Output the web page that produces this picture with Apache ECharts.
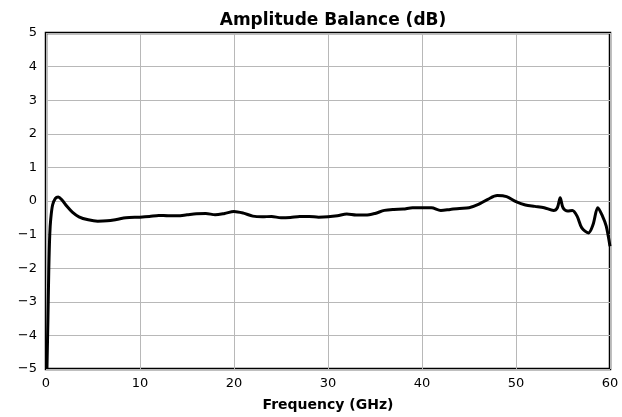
<!DOCTYPE html>
<html>
<head>
<meta charset="utf-8">
<script src="https://cdn.jsdelivr.net/npm/echarts@6/dist/echarts.min.js"></script>
<style>
html,body{margin:0;padding:0;background:#fff;}
#chart{width:622px;height:417px;}
</style>
</head>
<body>
<div id="chart"></div>
<script>
let freq = [0.1,0.2,0.3,0.4,0.5,0.7,1.0,1.3,1.7,2.2,2.8,3.5,4.5,5.5,6.5,7.5,8.5,10,11,12,13,14,15,16,17,18,19,20,21,22,23,24,25,26,27,28,29,30,31,32,33,34,35,36,37,38,39,40,41,42,43,44,45,46,47,48,49,50,51,52,53,54,54.4,54.7,55,55.5,56,56.5,57,57.7,58.2,58.7,59.2,59.6,60];
let balance = [-5,-3.6,-2.0,-1.0,-0.55,-0.12,0.08,0.12,0.03,-0.15,-0.33,-0.47,-0.56,-0.6,-0.59,-0.55,-0.5,-0.48,-0.46,-0.43,-0.44,-0.44,-0.41,-0.38,-0.37,-0.41,-0.37,-0.31,-0.36,-0.45,-0.47,-0.46,-0.5,-0.49,-0.46,-0.46,-0.48,-0.47,-0.44,-0.39,-0.42,-0.42,-0.37,-0.28,-0.25,-0.24,-0.2,-0.2,-0.2,-0.28,-0.25,-0.22,-0.2,-0.1,0.05,0.16,0.13,-0.02,-0.12,-0.16,-0.2,-0.28,-0.2,0.1,-0.2,-0.3,-0.28,-0.45,-0.8,-0.95,-0.7,-0.2,-0.45,-0.75,-1.35];
let xTicks = [0,10,20,30,40,50,60];
let yTicks = [-5,-4,-3,-2,-1,0,1,2,3,4,5];

let pts = freq.map((f,i)=>[f,balance[i]]);
let myChart = echarts.init(document.getElementById("chart"));
let font = "DejaVu Sans";
let opt = {
	animation:false,
	title:{
		text:"Amplitude Balance (dB)",
		left:328,
		textAlign:"center",
		top:7,
		textStyle:{fontFamily:font,fontSize:17,fontWeight:"bold",color:"#000"}
	},
	grid:{
		left:46,right:12,top:33,bottom:48,
		show:true,borderColor:"#000",borderWidth:2.5,backgroundColor:"#fff"
	},
	xAxis:{
		type:"value",min:0,max:60,interval:10,
		name:"Frequency (GHz)",nameLocation:"middle",nameGap:29,
		nameTextStyle:{fontFamily:font,fontSize:14,fontWeight:"bold",color:"#000"},
		axisLine:{show:false},
		axisTick:{show:false},
		axisLabel:{fontFamily:font,fontSize:13,color:"#000",margin:8,
			formatter:v=>xTicks.indexOf(v)>=0?String(v):""},
		splitLine:{show:true,lineStyle:{color:"#b8b8b8",width:1}}
	},
	yAxis:{
		type:"value",min:-5,max:5,interval:1,
		axisLine:{show:false},
		axisTick:{show:false},
		axisLabel:{fontFamily:font,fontSize:13,color:"#000",margin:9,
			formatter:v=>yTicks.indexOf(v)>=0?String(v).replace("-","\u2212"):""},
		splitLine:{show:true,lineStyle:{color:"#b8b8b8",width:1}}
	},
	series:[{
		type:"line",
		data:pts,
		showSymbol:false,
		smooth:0.3,
		clip:true,
		lineStyle:{color:"#000",width:3}
	}]
};
myChart.setOption(opt);
</script>
</body>
</html>
